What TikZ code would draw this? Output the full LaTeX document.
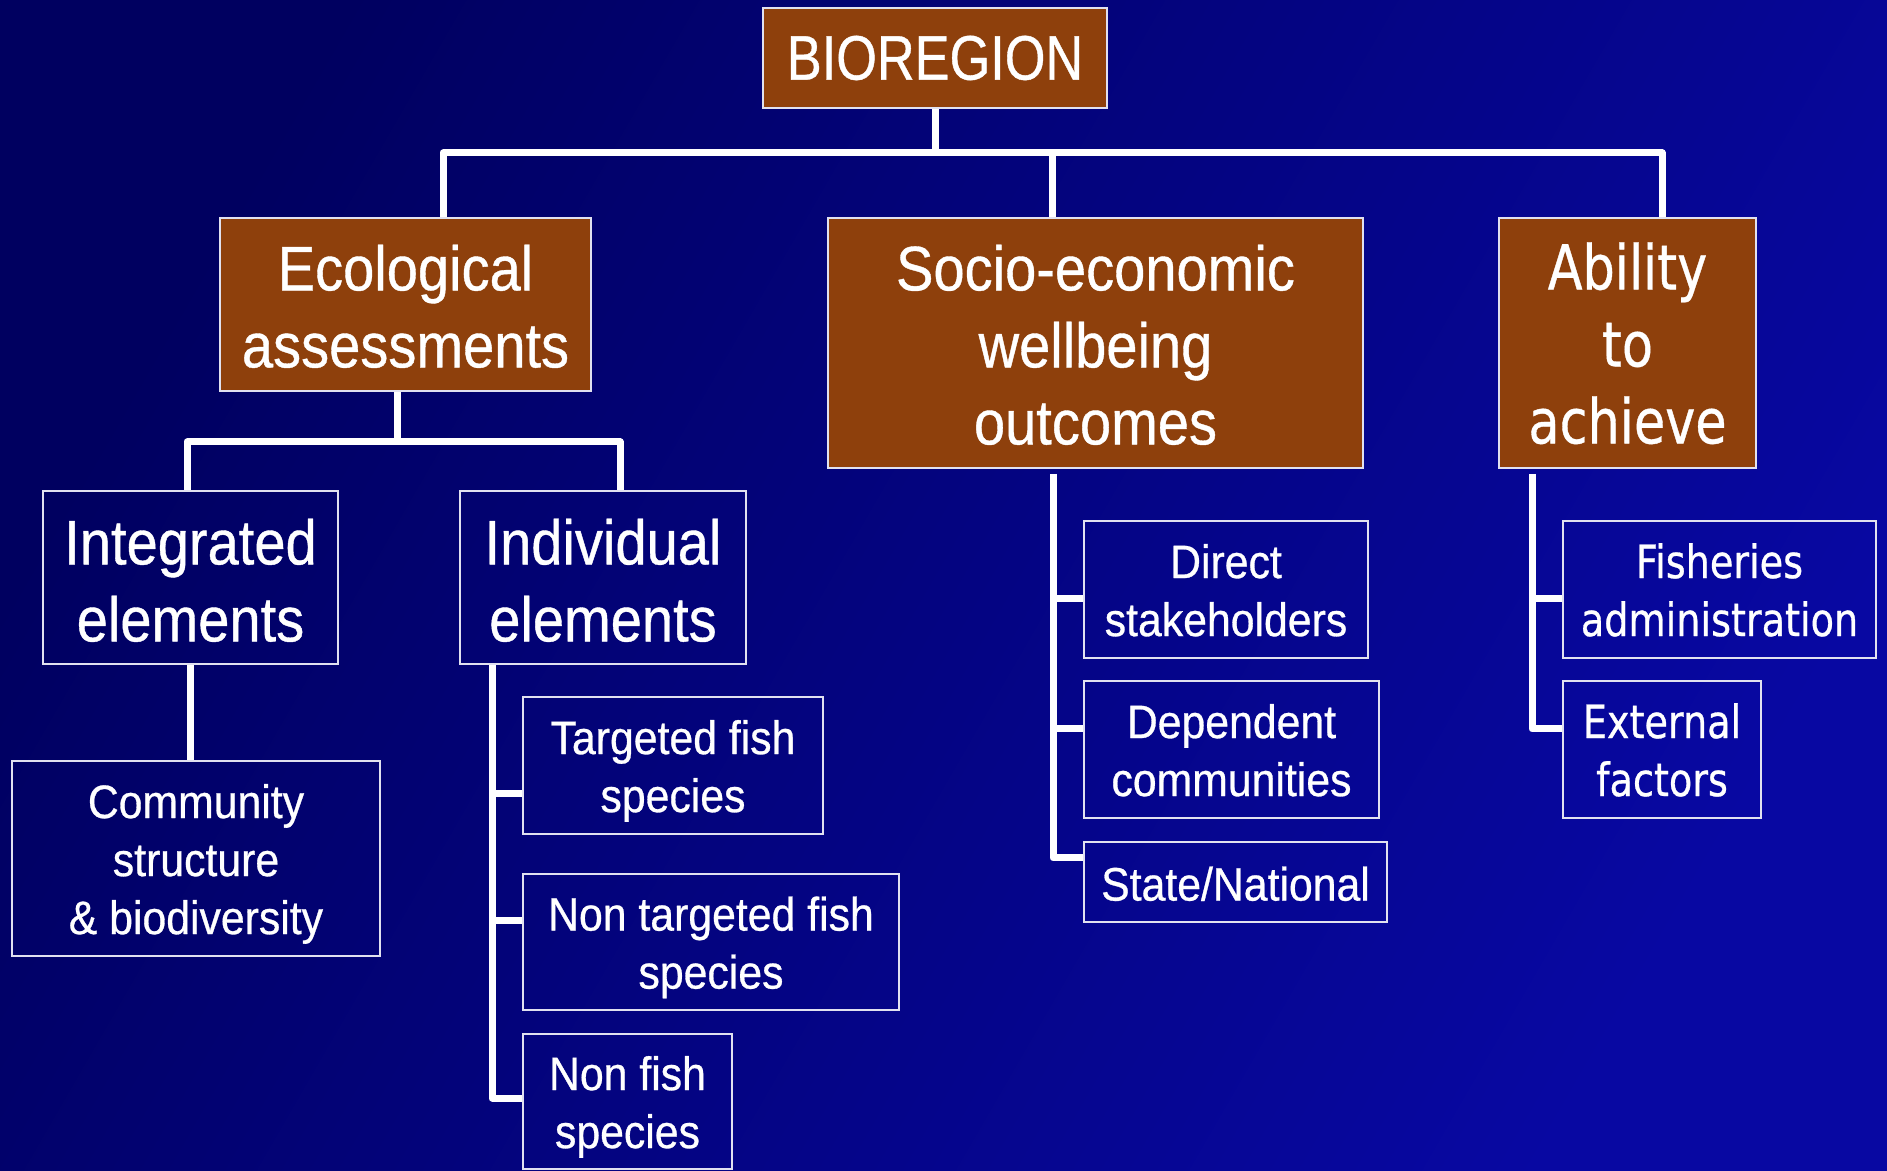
\documentclass[tikz,border=0pt]{standalone}
\usepackage{fontspec}
\setmainfont{Liberation Sans}
\newfontfamily\topfont[FakeStretch=0.83,FakeBold=0.6]{Liberation Sans}
\newfontfamily\narrowfont[FakeStretch=0.89,FakeBold=0.6]{Liberation Sans}
\newfontfamily\smallnarrow[FakeStretch=0.91,FakeBold=0.6]{Liberation Sans}
\newfontfamily\tahfont[FakeStretch=0.82,FakeBold=0.6]{DejaVu Sans}
\newfontfamily\tahsmall[FakeStretch=0.83,FakeBold=0.6]{DejaVu Sans}
\newcommand{\lowtext}[2]{\raisebox{-#1}[\height][\depth]{\begin{tabular}{@{}c@{}}#2\end{tabular}}}
\definecolor{bgA}{RGB}{0,0,96}
\definecolor{bgB}{RGB}{8,8,162}
\definecolor{brownbox}{RGB}{142,64,12}
\definecolor{edgecol}{RGB}{225,225,240}
\begin{document}
\begin{tikzpicture}[x=1pt,y=1pt,
  box/.style={rectangle, draw=edgecol, line width=2pt, inner sep=0pt, text=white},
  brownbx/.style={box, fill=brownbox},
  topf/.style={font=\topfont\fontsize{63}{77}\selectfont},
  big/.style={font=\narrowfont\fontsize{63}{77}\selectfont},
  small/.style={font=\smallnarrow\fontsize{47}{58}\selectfont},
  bigtah/.style={font=\tahfont\fontsize{62}{77}\selectfont},
  smalltah/.style={font=\tahsmall\fontsize{46}{58}\selectfont},
  conn/.style={draw=white, line width=7pt, line join=round}]
% background
\shade[top color=bgA, bottom color=bgB, shading angle=60] (0,0) rectangle (1887,1170);
\useasboundingbox (0,0) rectangle (1887,1170);

% nodes
\node[brownbx,topf,minimum width=344pt,minimum height=100pt] (bio) at (935,1112) {BIOREGION};
\node[brownbx,big,minimum width=371pt,minimum height=173pt] (eco) at (405.5,865.5) {\lowtext{9pt}{Ecological\\assessments}};
\node[brownbx,big,minimum width=535pt,minimum height=250pt] (soc) at (1095.5,827) {\lowtext{9pt}{Socio-economic\\wellbeing\\outcomes}};
\node[brownbx,bigtah,minimum width=257pt,minimum height=250pt] (abl) at (1627.5,827) {\lowtext{8pt}{Ability\\to\\achieve}};

\node[box,big,minimum width=295pt,minimum height=173pt] (int) at (190.5,592.5) {\lowtext{10pt}{Integrated\\elements}};
\node[box,big,minimum width=286pt,minimum height=173pt] (ind) at (603,592.5) {\lowtext{10pt}{Individual\\elements}};
\node[box,small,minimum width=368pt,minimum height=195pt] (com) at (196,311.5) {\lowtext{6pt}{Community\\structure\\\& biodiversity}};

\node[box,small,minimum width=300pt,minimum height=137pt] (tgt) at (673,404.5) {\lowtext{6pt}{Targeted fish\\species}};
\node[box,small,minimum width=376pt,minimum height=136pt] (ntg) at (711,228) {\lowtext{6pt}{Non targeted fish\\species}};
\node[box,small,minimum width=209pt,minimum height=135pt] (nfs) at (627.5,68.5) {\lowtext{6pt}{Non fish\\species}};

\node[box,small,minimum width=284pt,minimum height=137pt] (dir) at (1226,580.5) {\lowtext{6pt}{Direct\\stakeholders}};
\node[box,small,minimum width=295pt,minimum height=137pt] (dep) at (1231.5,420.5) {\lowtext{6pt}{Dependent\\communities}};
\node[box,small,minimum width=303pt,minimum height=80pt] (sta) at (1235.5,288) {\lowtext{7pt}{State/National}};

\node[box,smalltah,minimum width=313pt,minimum height=137pt] (fis) at (1719.5,580.5) {\lowtext{6pt}{Fisheries\\administration}};
\node[box,smalltah,minimum width=198pt,minimum height=137pt] (ext) at (1662,420.5) {\lowtext{6pt}{External\\factors}};

% top bus
\coordinate (busE) at (443,1017);
\coordinate (busS) at (1052,1017);
\coordinate (busA) at (1662,1017);
\draw[conn] (bio.south) -- (bio.south |- busE);
\draw[conn] (eco.north -| busE) -- (busE) -- (busA) -- (busA |- abl.north);
\draw[conn] (busS) -- (busS |- soc.north);

% ecological split
\coordinate (e1) at (187,728);
\coordinate (e2) at (620,728);
\coordinate (e0) at (397,728);
\draw[conn] (eco.south -| e0) -- (e0);
\draw[conn] (int.north -| e1) -- (e1) -- (e2) -- (e2 |- ind.north);
\draw[conn] (int.south) -- (int.south |- com.north);

% individual trunk
\coordinate (t1) at (492,376);
\coordinate (t2) at (492,249);
\coordinate (t3) at (492,72);
\draw[conn] (ind.south -| t3) -- (t3) -- (t3 -| nfs.west);
\draw[conn] (t1) -- (t1 -| tgt.west);
\draw[conn] (t2) -- (t2 -| ntg.west);

% socio trunk
\coordinate (s1) at (1053,571);
\coordinate (s2) at (1053,441);
\coordinate (s3) at (1053,312);
\draw[conn] (soc.south -| s3) ++(0,-5) -- (s3) -- (s3 -| sta.west);
\draw[conn] (s1) -- (s1 -| dir.west);
\draw[conn] (s2) -- (s2 -| dep.west);

% ability trunk
\coordinate (a1) at (1532,571);
\coordinate (a2) at (1532,441);
\draw[conn] (abl.south -| a2) ++(0,-5) -- (a2) -- (a2 -| ext.west);
\draw[conn] (a1) -- (a1 -| fis.west);
\end{tikzpicture}
\end{document}
